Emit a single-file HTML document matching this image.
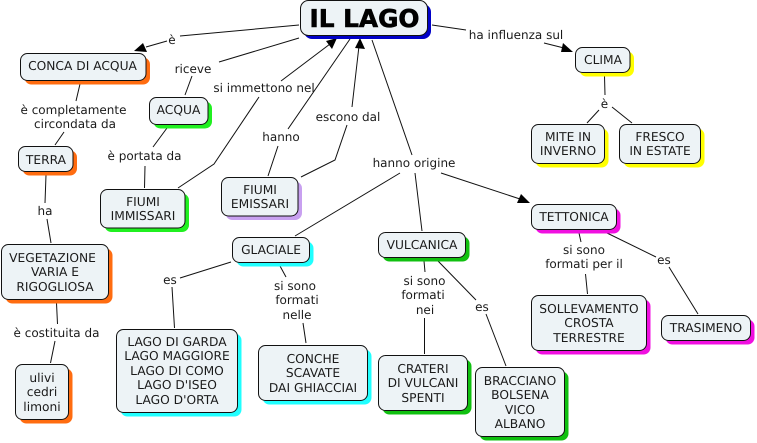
<!DOCTYPE html>
<html><head><meta charset="utf-8"><style>
html,body{margin:0;padding:0;background:#fff}
svg{display:block}
text{font-family:"DejaVu Sans",sans-serif;font-size:12px;fill:#1a1a1a;text-anchor:middle;text-rendering:geometricPrecision}
.n text{font-size:12.25px}
.l{fill:none;stroke:#111;stroke-width:1}
.b{fill:#edf3f6;stroke:#111;stroke-width:1}
</style></head><body>
<svg width="757" height="443" viewBox="0 0 757 443" xmlns="http://www.w3.org/2000/svg">
<g class="l">
<path d="M299 25L180 36M167 41L146 47"/>
<path d="M299 38L219 62M192 76L185 95"/>
<path d="M167 128L153 147M145 166L144.500 188"/>
<path d="M178 188L214 164L259 97M281 81L330 44"/>
<path d="M268 176L278 146M288 129L350 39"/>
<path d="M301 177L335 160L347 125M352 107L359 46"/>
<path d="M372 40L412 155M400 173L295 236M415 173L422 231M441 173L520 199"/>
<path d="M432 25L466 30M544 43L564 48"/>
<path d="M604.500 76L605 95M599 110L587 123M612 107L632 123"/>
<path d="M80 84L76 101M64 132L55 145"/>
<path d="M46 175L45 203M47 219L51 243"/>
<path d="M56.500 303L57.500 324M55 341L50.500 363"/>
<path d="M231 262L180 278M172 287L174.500 328"/>
<path d="M280 266L286 277M303 323L306 343"/>
<path d="M424 261L425 272M424.500 318L424.500 354"/>
<path d="M438 261L476 300M486 314L506 366"/>
<path d="M579 233L581 242M585.500 274L587.500 294"/>
<path d="M607 233L656 257M669 267L698 314"/>
</g>
<g fill="#000">
<polygon points="134,51 143,43 147,52"/>
<polygon points="337,38 326,41 332,49"/>
<polygon points="360,38 355,48 365,49"/>
<polygon points="530,203 521,194 517,203"/>
<polygon points="573,52 563,43 561,52"/>
</g>
<g>
<rect x="304" y="4" width="127" height="35" rx="8" fill="#0000c8"/>
<rect x="24.500" y="57.500" width="125.500" height="27" rx="7" fill="#ff6c10"/>
<rect x="153.500" y="101.500" width="58.500" height="27" rx="7" fill="#20f020"/>
<rect x="22.500" y="150.500" width="54.500" height="25" rx="7" fill="#ff6c10"/>
<rect x="104.500" y="193.500" width="84.500" height="38.500" rx="7" fill="#20f020"/>
<rect x="225.500" y="181.500" width="76.500" height="38.500" rx="7" fill="#c8a0f0"/>
<rect x="579.500" y="51.500" width="54.500" height="25" rx="7" fill="#ffff00"/>
<rect x="535.500" y="128.500" width="73" height="39" rx="7" fill="#ffff00"/>
<rect x="623.500" y="128.500" width="81" height="39" rx="7" fill="#ffff00"/>
<rect x="535.500" y="208.500" width="85" height="25" rx="7" fill="#f010e0"/>
<rect x="5.500" y="248.500" width="107" height="55" rx="7" fill="#ff6c10"/>
<rect x="19.500" y="368.500" width="53" height="55" rx="7" fill="#ff6c10"/>
<rect x="236.500" y="241.500" width="77" height="25" rx="7" fill="#20ffff"/>
<rect x="120.500" y="333.500" width="121" height="83" rx="7" fill="#20ffff"/>
<rect x="262.500" y="349.500" width="109" height="55" rx="7" fill="#20ffff"/>
<rect x="382.500" y="236.500" width="87" height="25" rx="7" fill="#10c010"/>
<rect x="382.500" y="359.500" width="89" height="55" rx="7" fill="#10c010"/>
<rect x="479.500" y="371.500" width="89" height="69" rx="7" fill="#10c010"/>
<rect x="535.500" y="299.500" width="115" height="55" rx="7" fill="#f010e0"/>
<rect x="665.500" y="319.500" width="89" height="25" rx="7" fill="#f010e0"/>
</g>
<g class="b">
<rect x="300.500" y="0.500" width="127" height="35" rx="8"/>
<rect x="20.500" y="53.500" width="125.500" height="27" rx="7"/>
<rect x="149.500" y="97.500" width="58.500" height="27" rx="7"/>
<rect x="18.500" y="146.500" width="54.500" height="25" rx="7"/>
<rect x="100.500" y="189.500" width="84.500" height="38.500" rx="7"/>
<rect x="221.500" y="177.500" width="76.500" height="38.500" rx="7"/>
<rect x="575.500" y="47.500" width="54.500" height="25" rx="7"/>
<rect x="531.500" y="124.500" width="73" height="39" rx="7"/>
<rect x="619.500" y="124.500" width="81" height="39" rx="7"/>
<rect x="531.500" y="204.500" width="85" height="25" rx="7"/>
<rect x="1.500" y="244.500" width="107" height="55" rx="7"/>
<rect x="15.500" y="364.500" width="53" height="55" rx="7"/>
<rect x="232.500" y="237.500" width="77" height="25" rx="7"/>
<rect x="116.500" y="329.500" width="121" height="83" rx="7"/>
<rect x="258.500" y="345.500" width="109" height="55" rx="7"/>
<rect x="378.500" y="232.500" width="87" height="25" rx="7"/>
<rect x="378.500" y="355.500" width="89" height="55" rx="7"/>
<rect x="475.500" y="367.500" width="89" height="69" rx="7"/>
<rect x="531.500" y="295.500" width="115" height="55" rx="7"/>
<rect x="661.500" y="315.500" width="89" height="25" rx="7"/>
</g>
<text x="364.500" y="27" textLength="110" lengthAdjust="spacingAndGlyphs" style="font-size:24.500px;font-weight:bold;fill:#000;stroke:#000;stroke-width:.6">IL LAGO</text>
<g class="n">
<text x="82.500" y="70">CONCA DI ACQUA</text>
<text x="178.500" y="114">ACQUA</text>
<text x="46" y="164">TERRA</text>
<text x="143" y="206">FIUMI</text><text x="143" y="220">IMMISSARI</text>
<text x="260" y="194">FIUMI</text><text x="260" y="208">EMISSARI</text>
<text x="603" y="64">CLIMA</text>
<text x="568" y="141">MITE IN</text><text x="568" y="155">INVERNO</text>
<text x="660" y="141">FRESCO</text><text x="660" y="155">IN ESTATE</text>
<text x="574" y="221">TETTONICA</text>
<text x="52.500" y="262">VEGETAZIONE</text><text x="55" y="276">VARIA E</text><text x="55" y="291">RIGOGLIOSA</text>
<text x="42" y="382">ulivi</text><text x="42" y="396">cedri</text><text x="42" y="411">limoni</text>
<text x="271" y="254">GLACIALE</text>
<text x="177" y="346">LAGO DI GARDA</text><text x="177" y="360">LAGO MAGGIORE</text><text x="177" y="375">LAGO DI COMO</text><text x="177" y="389">LAGO D'ISEO</text><text x="177" y="404">LAGO D'ORTA</text>
<text x="313" y="363">CONCHE</text><text x="313" y="377">SCAVATE</text><text x="313" y="392">DAI GHIACCIAI</text>
<text x="422" y="249">VULCANICA</text>
<text x="423" y="373">CRATERI</text><text x="423" y="387">DI VULCANI</text><text x="423" y="402">SPENTI</text>
<text x="520" y="385">BRACCIANO</text><text x="520" y="399">BOLSENA</text><text x="520" y="414">VICO</text><text x="520" y="428">ALBANO</text>
<text x="589" y="313">SOLLEVAMENTO</text><text x="589" y="327">CROSTA</text><text x="589" y="342">TERRESTRE</text>
<text x="706" y="332">TRASIMENO</text>
</g>
<text x="172" y="44">è</text>
<text x="193" y="73">riceve</text>
<text x="144.500" y="160">è portata da</text>
<text x="264" y="92">si immettono nel</text>
<text x="281" y="141">hanno</text>
<text x="348" y="121">escono dal</text>
<text x="414" y="167">hanno origine</text>
<text x="516" y="39">ha influenza sul</text>
<text x="604.500" y="108">è</text>
<text x="73.500" y="114">è completamente</text><text x="75" y="128">circondata da</text>
<text x="45" y="215">ha</text>
<text x="56.500" y="337">è costituita da</text>
<text x="170" y="284">es</text>
<text x="295" y="290">si sono</text><text x="297" y="304">formati</text><text x="297" y="319">nelle</text>
<text x="424.500" y="285">si sono</text><text x="423" y="299">formati</text><text x="425" y="314">nei</text>
<text x="482" y="311">es</text>
<text x="584" y="254">si sono</text><text x="584" y="268">formati per il</text>
<text x="664" y="264">es</text>
</svg>
</body></html>
